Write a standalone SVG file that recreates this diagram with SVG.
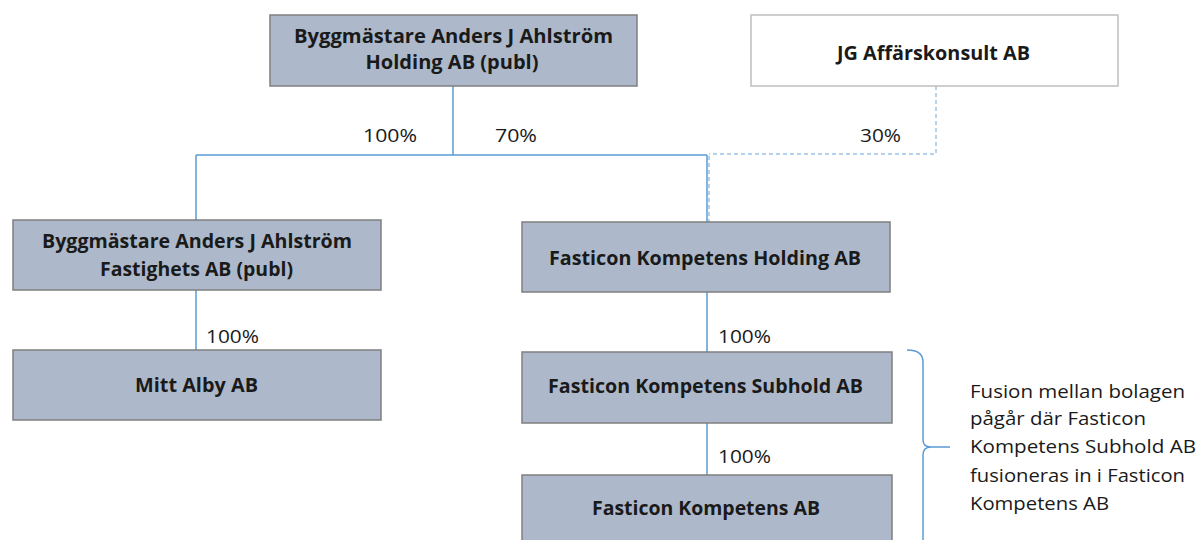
<svg xmlns="http://www.w3.org/2000/svg" width="1197" height="540" viewBox="0 0 1197 540">
<style>
.box{fill:#adb9ca;stroke:#7f7f7f;stroke-width:1.5}
.wbox{fill:#ffffff;stroke:#bfbfbf;stroke-width:1.5}
.nt{font-family:"Open Sans","Liberation Sans",sans-serif;font-weight:bold;font-size:19px;fill:#1a1a1a;text-anchor:middle}
.lb{font-family:"Open Sans","Liberation Sans",sans-serif;font-size:18px;fill:#1a1a1a}
.nb{font-family:"Open Sans","Liberation Sans",sans-serif;font-size:18.5px;fill:#1a1a1a}
.ln{fill:none;stroke:#5b9bd5;stroke-width:1.5}
.dl{fill:none;stroke:#9dc3e6;stroke-width:1.5;stroke-dasharray:4 3}
</style>
<rect width="1197" height="540" fill="#ffffff"/>
<g id="connectors">
<path class="ln" d="M453,86 V155 M196,155 H707 M196,155 V220 M707,155 V222 M196,290 V350 M707,292 V352 M707,423 V475"/>
<path class="dl" d="M936,86 V154 H709 M709,156 V222"/>
<path class="ln" d="M907,350 Q923,350 923,362 V440 Q923,447 931,447 H950 M931,447 Q923,447 923,455 V540"/>
<text class="lb" x="363" y="142" textLength="54" lengthAdjust="spacingAndGlyphs">100%</text>
<text class="lb" x="495" y="142" textLength="42" lengthAdjust="spacingAndGlyphs">70%</text>
<text class="lb" x="860" y="142" textLength="41" lengthAdjust="spacingAndGlyphs">30%</text>
<text class="lb" x="206" y="343" textLength="53" lengthAdjust="spacingAndGlyphs">100%</text>
<text class="lb" x="718" y="343" textLength="53" lengthAdjust="spacingAndGlyphs">100%</text>
<text class="lb" x="718" y="463" textLength="53" lengthAdjust="spacingAndGlyphs">100%</text>
</g>
<g id="n1"><rect class="box" x="270" y="15" width="367" height="71"/>
<text class="nt" x="453.5" y="43" textLength="319" lengthAdjust="spacingAndGlyphs">Byggmästare Anders J Ahlström</text>
<text class="nt" x="452" y="69" textLength="173" lengthAdjust="spacingAndGlyphs">Holding AB (publ)</text></g>
<g id="n2"><rect class="wbox" x="751" y="15" width="367" height="71"/>
<text class="nt" x="933.5" y="60" textLength="193" lengthAdjust="spacingAndGlyphs">JG Affärskonsult AB</text></g>
<g id="n3"><rect class="box" x="13" y="220" width="368" height="70"/>
<text class="nt" x="197" y="248" textLength="310" lengthAdjust="spacingAndGlyphs">Byggmästare Anders J Ahlström</text>
<text class="nt" x="196.5" y="276" textLength="193" lengthAdjust="spacingAndGlyphs">Fastighets AB (publ)</text></g>
<g id="n4"><rect class="box" x="522" y="222" width="368" height="70"/>
<text class="nt" x="705" y="265" textLength="312" lengthAdjust="spacingAndGlyphs">Fasticon Kompetens Holding AB</text></g>
<g id="n5"><rect class="box" x="13" y="350" width="368" height="70"/>
<text class="nt" x="196.5" y="392" textLength="123" lengthAdjust="spacingAndGlyphs">Mitt Alby AB</text></g>
<g id="n6"><rect class="box" x="522" y="352" width="370" height="71"/>
<text class="nt" x="705.5" y="393" textLength="315" lengthAdjust="spacingAndGlyphs">Fasticon Kompetens Subhold AB</text></g>
<g id="n7"><rect class="box" x="522" y="475" width="370" height="80"/>
<text class="nt" x="706" y="515" textLength="228" lengthAdjust="spacingAndGlyphs">Fasticon Kompetens AB</text></g>
<g id="note">
<text class="nb" x="970" y="398" textLength="215" lengthAdjust="spacingAndGlyphs">Fusion mellan bolagen</text>
<text class="nb" x="970" y="425" textLength="176" lengthAdjust="spacingAndGlyphs">pågår där Fasticon</text>
<text class="nb" x="970" y="453" textLength="226" lengthAdjust="spacingAndGlyphs">Kompetens Subhold AB</text>
<text class="nb" x="970" y="482" textLength="215" lengthAdjust="spacingAndGlyphs">fusioneras in i Fasticon</text>
<text class="nb" x="970" y="510" textLength="139" lengthAdjust="spacingAndGlyphs">Kompetens AB</text>
</g>
</svg>
